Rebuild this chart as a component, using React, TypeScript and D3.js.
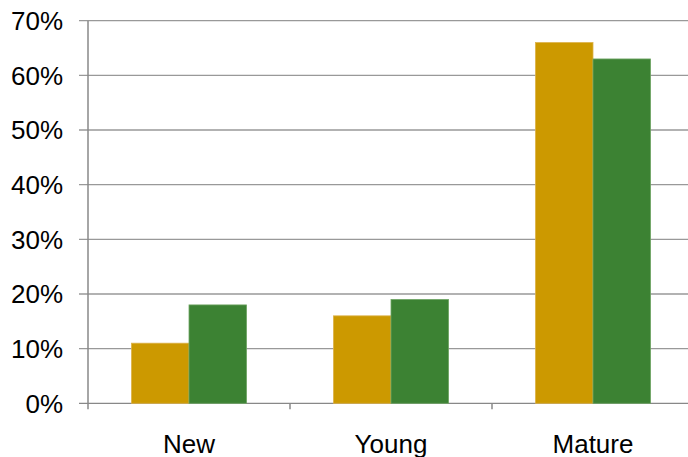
import React from "react";
import * as d3 from "d3";

const categories = ["New", "Young", "Mature"];
const seriesNames = ["Series A", "Series B"];
const seriesA = [11, 16, 66];
const seriesB = [18, 19, 63];
const yTicks = [0, 10, 20, 30, 40, 50, 60, 70];
const colors = ["#CC9900", "#3C8233"];
const strokes = ["#DDB24A", "#6FA564"];

export default function App() {
  const W = 688, H = 457;
  const left = 88, right = 694, top = 20.7, bottom = 403.3;
  const x = d3.scaleBand<string>().domain(categories).range([left, right]).paddingInner(0.43).paddingOuter(0.215);
  const xs = d3.scaleBand<string>().domain(seriesNames).range([0, x.bandwidth()]);
  const y = d3.scaleLinear().domain([0, 70]).range([bottom, top]);
  const data = [seriesA, seriesB];
  const step = x.step();
  const font = "'Liberation Sans', Arial, sans-serif";
  return (
    <svg width={W} height={H} style={{ position: "absolute", left: 0, top: 0, background: "#fff" }}>
      {yTicks.map((t) => (
        <g key={t}>
          <line x1={79} x2={right} y1={y(t)} y2={y(t)} stroke={t === 0 ? "#888" : "#999"} strokeWidth={1.3} />
          <text x={63} y={y(t)} dy="0.36em" textAnchor="end" fontFamily={font} fontSize={26} fill="#000">
            {t}%
          </text>
        </g>
      ))}
      <line x1={left} x2={left} y1={top} y2={bottom + 6} stroke="#888" strokeWidth={1.5} />
      {categories.map((c, i) => (
        <line key={c} x1={left + step * (i + 1)} x2={left + step * (i + 1)} y1={bottom} y2={bottom + 6} stroke="#888" strokeWidth={1.5} />
      ))}
      {data.map((s, si) =>
        s.map((v, i) => (
          <rect
            key={si + "-" + i}
            x={(x(categories[i]) as number) + (xs(seriesNames[si]) as number)}
            y={y(v)}
            width={xs.bandwidth()}
            height={bottom - y(v)}
            fill={colors[si]}
            stroke={strokes[si]}
            strokeWidth={0.8}
          />
        ))
      )}
      {categories.map((c) => (
        <text key={c} x={(x(c) as number) + x.bandwidth() / 2} y={453} textAnchor="middle" fontFamily={font} fontSize={26} fill="#000">
          {c}
        </text>
      ))}
    </svg>
  );
}
